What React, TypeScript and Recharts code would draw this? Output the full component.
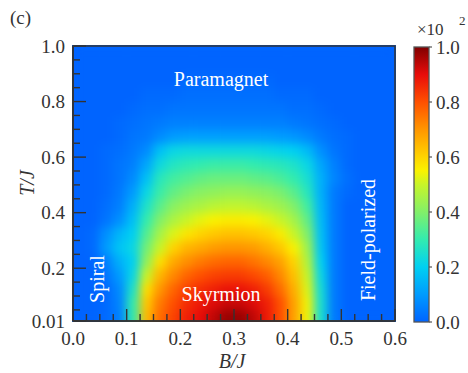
import React from 'react';
import { ComposedChart, Bar, XAxis, YAxis, ReferenceArea } from 'recharts';

const FONT = '"Liberation Serif", "Times New Roman", serif';
const INK = '#333';

// column centres on B/J (0.025 wide)
const B_CENTERS = [
  0.0125, 0.0375, 0.0625, 0.0875, 0.1125, 0.1375, 0.1625, 0.1875, 0.2125, 0.2375, 0.2625, 0.2875,
  0.3125, 0.3375, 0.3625, 0.3875, 0.4125, 0.4375, 0.4625, 0.4875, 0.5125, 0.5375, 0.5625, 0.5875,
];
// row edges on T/J
const T_EDGES = [
  0.01, 0.05, 0.1, 0.15, 0.2, 0.25, 0.3, 0.35, 0.4, 0.45, 0.5,
  0.55, 0.6, 0.65, 0.7, 0.75, 0.8, 0.85, 0.9, 0.95, 1.0,
];

// values (x10^2), one row per T band
const ROW_T975 = [0, 0, 0, 0, 0, 0, 0, 0, 0, 0, 0, 0, 0, 0, 0, 0, 0, 0, 0, 0, 0, 0, 0, 0];
const ROW_T925 = [0, 0, 0, 0, 0, 0, 0, 0, 0, 0, 0, 0, 0, 0, 0, 0, 0, 0, 0, 0, 0, 0, 0, 0];
const ROW_T875 = [0, 0, 0, 0, 0, 0, 0, 0, 0.01, 0.01, 0.01, 0.01, 0.01, 0.01, 0.01, 0, 0, 0, 0, 0, 0, 0, 0, 0];
const ROW_T825 = [0, 0, 0, 0, 0, 0.01, 0.01, 0.01, 0.02, 0.02, 0.02, 0.02, 0.02, 0.02, 0.02, 0.01, 0.01, 0.01, 0, 0, 0, 0, 0, 0];
const ROW_T775 = [0, 0, 0, 0, 0.01, 0.02, 0.02, 0.03, 0.03, 0.03, 0.03, 0.03, 0.03, 0.03, 0.03, 0.03, 0.02, 0.02, 0.01, 0, 0, 0, 0, 0];
const ROW_T725 = [0, 0, 0, 0.01, 0.02, 0.03, 0.04, 0.05, 0.05, 0.05, 0.05, 0.05, 0.05, 0.05, 0.05, 0.05, 0.04, 0.03, 0.02, 0.01, 0, 0, 0, 0];
const ROW_T675 = [0, 0, 0, 0.01, 0.03, 0.04, 0.07, 0.1, 0.11, 0.11, 0.11, 0.11, 0.11, 0.11, 0.11, 0.1, 0.09, 0.07, 0.04, 0.02, 0.01, 0, 0, 0];
const ROW_T625 = [0, 0, 0.01, 0.02, 0.04, 0.07, 0.17, 0.22, 0.23, 0.23, 0.23, 0.23, 0.23, 0.23, 0.22, 0.21, 0.2, 0.16, 0.08, 0.03, 0.01, 0, 0, 0];
const ROW_T575 = [0, 0, 0.01, 0.03, 0.05, 0.12, 0.23, 0.27, 0.29, 0.3, 0.31, 0.31, 0.31, 0.3, 0.29, 0.28, 0.26, 0.22, 0.12, 0.05, 0.01, 0, 0, 0];
const ROW_T525 = [0, 0, 0.01, 0.03, 0.07, 0.17, 0.28, 0.32, 0.34, 0.36, 0.37, 0.37, 0.37, 0.36, 0.35, 0.33, 0.3, 0.25, 0.14, 0.06, 0.02, 0, 0, 0];
const ROW_T475 = [0, 0, 0.01, 0.04, 0.1, 0.22, 0.31, 0.36, 0.39, 0.41, 0.42, 0.43, 0.43, 0.42, 0.41, 0.39, 0.35, 0.28, 0.14, 0.04, 0.01, 0, 0, 0];
const ROW_T425 = [0, 0, 0.02, 0.05, 0.14, 0.26, 0.35, 0.41, 0.44, 0.46, 0.48, 0.49, 0.49, 0.48, 0.46, 0.44, 0.4, 0.32, 0.15, 0.04, 0, 0, 0, 0];
const ROW_T375 = [0, 0, 0.03, 0.08, 0.17, 0.3, 0.4, 0.46, 0.5, 0.53, 0.55, 0.56, 0.56, 0.55, 0.53, 0.5, 0.45, 0.36, 0.16, 0.04, 0, 0, 0, 0];
const ROW_T325 = [0, 0.01, 0.08, 0.15, 0.2, 0.34, 0.45, 0.52, 0.57, 0.6, 0.62, 0.63, 0.63, 0.62, 0.6, 0.56, 0.5, 0.4, 0.17, 0.04, 0, 0, 0, 0];
const ROW_T275 = [0, 0.01, 0.1, 0.18, 0.22, 0.38, 0.5, 0.6, 0.65, 0.67, 0.69, 0.7, 0.7, 0.69, 0.66, 0.62, 0.55, 0.44, 0.18, 0.04, 0, 0, 0, 0];
const ROW_T225 = [0, 0, 0.05, 0.14, 0.2, 0.42, 0.58, 0.67, 0.71, 0.74, 0.76, 0.77, 0.77, 0.75, 0.72, 0.68, 0.6, 0.47, 0.2, 0.04, 0, 0, 0, 0];
const ROW_T175 = [0, 0, 0.03, 0.1, 0.22, 0.5, 0.65, 0.72, 0.77, 0.8, 0.82, 0.83, 0.83, 0.81, 0.78, 0.72, 0.63, 0.5, 0.22, 0.04, 0, 0, 0, 0];
const ROW_T125 = [0, 0, 0.01, 0.07, 0.26, 0.58, 0.7, 0.77, 0.82, 0.85, 0.87, 0.89, 0.89, 0.87, 0.83, 0.76, 0.66, 0.52, 0.24, 0.04, 0, 0, 0, 0];
const ROW_T075 = [0, 0, 0.01, 0.06, 0.3, 0.62, 0.74, 0.8, 0.85, 0.88, 0.91, 0.93, 0.93, 0.91, 0.87, 0.8, 0.68, 0.54, 0.25, 0.04, 0, 0, 0, 0];
const ROW_T030 = [0, 0, 0.01, 0.05, 0.3, 0.64, 0.76, 0.82, 0.87, 0.9, 0.94, 0.98, 0.98, 0.94, 0.88, 0.8, 0.68, 0.54, 0.25, 0.04, 0, 0, 0, 0];

// bottom to top, matching T_EDGES
const HEAT_ROWS = [
  ROW_T030, ROW_T075, ROW_T125, ROW_T175, ROW_T225, ROW_T275, ROW_T325, ROW_T375, ROW_T425, ROW_T475,
  ROW_T525, ROW_T575, ROW_T625, ROW_T675, ROW_T725, ROW_T775, ROW_T825, ROW_T875, ROW_T925, ROW_T975,
];

const X_TICKS = [
  0, 0.025, 0.05, 0.075, 0.1, 0.125, 0.15, 0.175, 0.2, 0.225, 0.25, 0.275, 0.3,
  0.325, 0.35, 0.375, 0.4, 0.425, 0.45, 0.475, 0.5, 0.525, 0.55, 0.575, 0.6,
];
const Y_TICKS = [
  0.01, 0.05, 0.1, 0.15, 0.2, 0.25, 0.3, 0.35, 0.4, 0.45, 0.5,
  0.55, 0.6, 0.65, 0.7, 0.75, 0.8, 0.85, 0.9, 0.95, 1.0,
];
const Y_LABELS = [0.01, 0.2, 0.4, 0.6, 0.8, 1.0];
const CBAR_TICKS = [0, 0.2, 0.4, 0.6, 0.8, 1.0];

// jet-like colour map
const CMAP_POS = [0, 0.1, 0.2, 0.3, 0.4, 0.5, 0.55, 0.6, 0.7, 0.8, 0.9, 1];
const CMAP_RGB = [
  [0, 100, 255], [0, 155, 255], [0, 208, 242], [50, 236, 175], [130, 240, 105], [200, 245, 40],
  [250, 242, 0], [255, 212, 0], [255, 150, 0], [255, 80, 0], [232, 12, 10], [128, 0, 0],
];

const valueColor = (v: number) => {
  let i = 0;
  while (i < CMAP_POS.length - 2 && v > CMAP_POS[i + 1]) i++;
  const f = Math.max(0, Math.min(1, (v - CMAP_POS[i]) / (CMAP_POS[i + 1] - CMAP_POS[i])));
  const c = CMAP_RGB[i].map((a, k) => Math.round(a + (CMAP_RGB[i + 1][k] - a) * f));
  return `rgb(${c[0]},${c[1]},${c[2]})`;
};

const X_DOMAIN = [X_TICKS[0], X_TICKS[X_TICKS.length - 1]];
const Y_DOMAIN = [T_EDGES[0], T_EDGES[T_EDGES.length - 1]];

const heatData = B_CENTERS.map((b, i) => ({
  b,
  span: Y_DOMAIN,
  cells: HEAT_ROWS.map((row) => row[i]),
}));

const HeatColumn = (props: any) => {
  const { x, y, width, height, payload } = props;
  const [lo, hi] = Y_DOMAIN;
  const toPx = (t: number) => y + (height * (hi - t)) / (hi - lo);
  return (
    <g>
      {payload.cells.map((v: number, i: number) => {
        const top = toPx(T_EDGES[i + 1]);
        const bottom = toPx(T_EDGES[i]);
        return (
          <rect key={i} x={x - 0.5} y={top - 0.5} width={width + 1} height={bottom - top + 1} fill={valueColor(v)} />
        );
      })}
    </g>
  );
};

const Nothing = () => <g />;

const isTenth = (v: number) => Math.abs(v * 10 - Math.round(v * 10)) < 1e-6;

const XTick = (props: any) => {
  const { x, y, payload } = props;
  const v = payload.value;
  const major = isTenth(v);
  return (
    <g>
      <line x1={x} y1={y} x2={x} y2={y - (major ? 12 : 7)} stroke={INK} strokeWidth={1.4} />
      {major && (
        <text x={x} y={y + 24} textAnchor="middle" fontFamily={FONT} fontSize={19} fill={INK}>
          {v.toFixed(1)}
        </text>
      )}
    </g>
  );
};

const YTick = (props: any) => {
  const { x, y, payload } = props;
  const v = payload.value;
  const major = Y_LABELS.some((l) => Math.abs(l - v) < 1e-6);
  return (
    <g>
      <line x1={x} y1={y} x2={x + (major ? 13 : 7)} y2={y} stroke={INK} strokeWidth={1.4} />
      {major && (
        <text x={x - 8} y={y + 6.5} textAnchor="end" fontFamily={FONT} fontSize={19} fill={INK}>
          {v === 0.01 ? '0.01' : v.toFixed(1)}
        </text>
      )}
    </g>
  );
};

const CbarTick = (props: any) => {
  const { x, y, payload } = props;
  return (
    <g>
      <line x1={x} y1={y} x2={x + 3} y2={y} stroke="#555" strokeWidth={1.2} />
      <text x={x + 7} y={y + 6.5} textAnchor="start" fontFamily={FONT} fontSize={19} fill={INK}>
        {payload.value.toFixed(1)}
      </text>
    </g>
  );
};

const CbarRect = (props: any) => {
  const { x, y, width, height } = props;
  return <rect x={x} y={y} width={width} height={height} fill="url(#cbarGrad)" stroke="#555" strokeWidth={1.3} />;
};

const cbarData = [{ k: 'cb', span: [CBAR_TICKS[0], CBAR_TICKS[CBAR_TICKS.length - 1]] }];

const label = { fontFamily: FONT, fontSize: 20, fill: '#fff' };
const axisLabel = { fontFamily: FONT, fontSize: 20, fill: INK, fontStyle: 'italic' as const };

const W = 468;
const H = 373;

export default function App() {
  return (
    <div style={{ position: 'relative', width: W, height: H, overflow: 'hidden' }}>
      <style>{`body { margin: 0; } .heat-bar { filter: url(#heatBlur); }`}</style>
      <svg width={0} height={0} style={{ position: 'absolute' }}>
        <defs>
          <filter id="heatBlur" x="0" y="0" width="1" height="1" colorInterpolationFilters="sRGB">
            <feGaussianBlur stdDeviation="5" />
            <feComponentTransfer>
              <feFuncA type="table" tableValues="1 1" />
            </feComponentTransfer>
          </filter>
          <linearGradient id="cbarGrad" x1="0" y1="1" x2="0" y2="0">
            {CMAP_POS.map((p, i) => (
              <stop key={i} offset={p} stopColor={valueColor(p)} />
            ))}
          </linearGradient>
        </defs>
      </svg>

      {/* heat map, axes hidden */}
      <div style={{ position: 'absolute', left: 0, top: 0 }}>
        <ComposedChart
          width={W}
          height={H}
          data={heatData}
          margin={{ top: 46, right: 73, bottom: 52, left: 73 }}
          barCategoryGap={0}
          barGap={0}
        >
          <XAxis xAxisId="b" dataKey="b" type="number" domain={X_DOMAIN} ticks={X_TICKS} allowDataOverflow hide />
          <YAxis yAxisId="t" type="number" domain={Y_DOMAIN} allowDataOverflow hide />
          <Bar
            xAxisId="b"
            yAxisId="t"
            dataKey="span"
            className="heat-bar"
            shape={<HeatColumn />}
            isAnimationActive={false}
          />
        </ComposedChart>
      </div>

      {/* axes, inside ticks and frame on top */}
      <div style={{ position: 'absolute', left: 0, top: 0 }}>
        <ComposedChart width={W} height={H} data={heatData} margin={{ top: 46, right: 73, bottom: 0, left: 0 }}>
          <XAxis
            xAxisId="b"
            dataKey="b"
            type="number"
            domain={X_DOMAIN}
            ticks={X_TICKS}
            interval={0}
            allowDataOverflow
            height={52}
            tickSize={0}
            tickMargin={0}
            tickLine={false}
            axisLine={{ stroke: INK, strokeWidth: 1.5 }}
            tick={<XTick />}
          />
          <YAxis
            yAxisId="t"
            type="number"
            domain={Y_DOMAIN}
            ticks={Y_TICKS}
            interval={0}
            allowDataOverflow
            width={73}
            tickSize={0}
            tickMargin={0}
            tickLine={false}
            axisLine={{ stroke: INK, strokeWidth: 1.5 }}
            tick={<YTick />}
          />
          <Bar xAxisId="b" yAxisId="t" dataKey="span" shape={<Nothing />} isAnimationActive={false} />
          <ReferenceArea
            xAxisId="b"
            yAxisId="t"
            x1={X_DOMAIN[0]}
            x2={X_DOMAIN[1]}
            y1={Y_DOMAIN[0]}
            y2={Y_DOMAIN[1]}
            fill="none"
            fillOpacity={0}
            stroke={INK}
            strokeWidth={1.5}
          />
        </ComposedChart>
      </div>

      <div style={{ position: 'absolute', left: 406, top: 0 }}>
        <ComposedChart
          width={62}
          height={H}
          data={cbarData}
          margin={{ top: 47, right: 0, bottom: 51, left: 8 }}
          barCategoryGap={0}
        >
          <XAxis dataKey="k" type="category" hide />
          <YAxis
            orientation="right"
            type="number"
            domain={[0, 1]}
            ticks={CBAR_TICKS}
            interval={0}
            width={39}
            tickSize={0}
            tickMargin={0}
            tickLine={false}
            axisLine={false}
            tick={<CbarTick />}
          />
          <Bar dataKey="span" shape={<CbarRect />} isAnimationActive={false} />
        </ComposedChart>
      </div>

      <svg width={W} height={H} style={{ position: 'absolute', left: 0, top: 0, pointerEvents: 'none' }}>
        <text x={10} y={24} fontFamily={FONT} fontSize={19} fill={INK}>(c)</text>
        <text transform="translate(34,183) rotate(-90)" textAnchor="middle" {...axisLabel}>T/J</text>
        <text x={232} y={368} textAnchor="middle" {...axisLabel}>B/J</text>
        <text x={221} y={86} textAnchor="middle" {...label}>Paramagnet</text>
        <text x={221} y={301} textAnchor="middle" {...label}>Skyrmion</text>
        <text transform="translate(104,279) rotate(-90)" textAnchor="middle" {...label}>Spiral</text>
        <text transform="translate(375,240) rotate(-90)" textAnchor="middle" {...label}>Field-polarized</text>
        <text x={417} y={35} fontFamily={FONT} fontSize={17} fill={INK}>×10</text>
        <text x={459} y={25} fontFamily={FONT} fontSize={13} fill={INK}>2</text>
      </svg>
    </div>
  );
}
